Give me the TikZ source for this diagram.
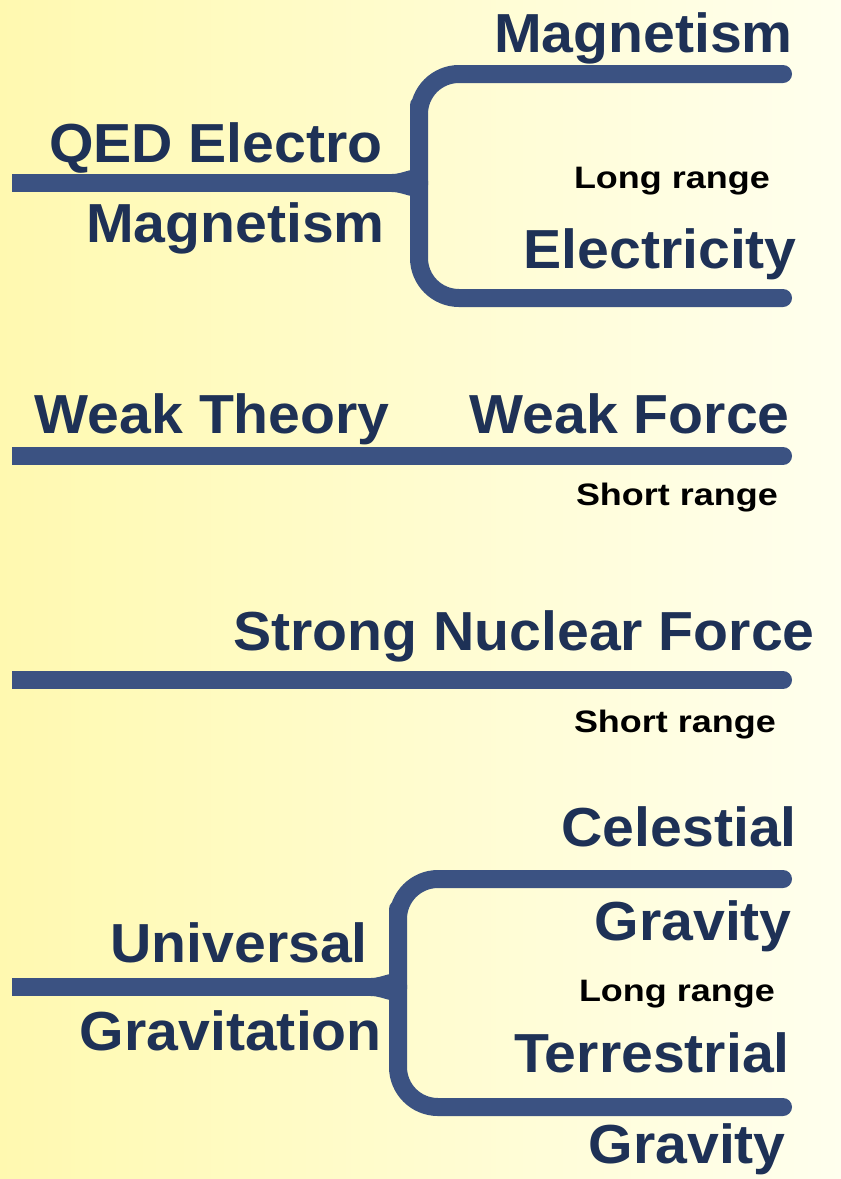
\documentclass[tikz,border=0pt]{standalone}
\usepackage{fontspec}
\setmainfont{Liberation Sans}
\newfontfamily\bigf{Liberation Sans}[FakeStretch=1.04]
\newfontfamily\smallf{Liberation Sans}[FakeStretch=1.16]
\definecolor{linec}{HTML}{3B5282}
\definecolor{txtc}{HTML}{1E3156}
\definecolor{bgleft}{HTML}{FFF9B0}
\definecolor{bgright}{HTML}{FFFFEE}
\tikzset{
  big/.style={font=\bigf\bfseries\fontsize{55}{60}\selectfont, text=txtc, anchor=base east, inner sep=0pt},
  small/.style={font=\smallf\bfseries\fontsize{31}{34}\selectfont, text=black, anchor=base east, inner sep=0pt},
  branch/.style={draw=linec, line width=18pt, line cap=round, line join=round},
  stem/.style={draw=linec, line width=18pt, line cap=butt},
}
\begin{document}
\begin{tikzpicture}[x=1pt,y=-1pt]
\shade[left color=bgleft, right color=bgright] (0,0) rectangle (841,1179);
\useasboundingbox (0,0) rectangle (841,1179);

% ---------- Block 1 : electromagnetism ----------
\coordinate (s1) at (12,183);
\coordinate (j1) at (392,183);
\coordinate (a1) at (783,74);
\coordinate (b1) at (783,298);
\draw[stem] (s1) -- (j1);
\draw[branch] (a1) [rounded corners=40pt] -- (419,74) -- (419,145) [sharp corners]
  .. controls (419,172) and (408,183) .. (j1);
\draw[branch] (b1) [rounded corners=40pt] -- (419,298) -- (419,221) [sharp corners]
  .. controls (419,194) and (408,183) .. (j1);

\node[big] (m1) at (793,52) {Magnetism};
\node[big] (q1) at (383,162) {QED Electro};
\node[big] (m2) at (385,242) {Magnetism};
\node[small] (l1) at (770,188) {Long range};
\node[big] (e1) at (797,268) {Electricity};

% ---------- Block 2 : weak ----------
\coordinate (s2) at (12,456);
\coordinate (e2) at (783,456);
\draw[branch] (30,456) -- (e2);
\draw[stem] (s2) -- (40,456);
\node[big] (wt) at (390,433) {Weak Theory};
\node[big] (wf) at (790,433) {Weak Force};
\node[small] (sr1) at (778,505) {Short range};

% ---------- Block 3 : strong ----------
\coordinate (s3) at (12,680);
\coordinate (e3) at (783,680);
\draw[branch] (30,680) -- (e3);
\draw[stem] (s3) -- (40,680);
\node[big] (snf) at (815,650) {Strong Nuclear Force};
\node[small] (sr2) at (776,732) {Short range};

% ---------- Block 4 : gravitation ----------
\coordinate (s4) at (12,987);
\coordinate (j4) at (371,987);
\coordinate (a4) at (783,879);
\coordinate (b4) at (783,1107);
\draw[stem] (s4) -- (j4);
\draw[branch] (a4) [rounded corners=40pt] -- (398,879) -- (398,949) [sharp corners]
  .. controls (398,976) and (387,987) .. (j4);
\draw[branch] (b4) [rounded corners=40pt] -- (398,1107) -- (398,1025) [sharp corners]
  .. controls (398,998) and (387,987) .. (j4);

\node[big] (ce) at (797,846) {Celestial};
\node[big] (g1) at (792,940) {Gravity};
\node[big] (un) at (368,962) {Universal};
\node[small] (l2) at (775,1001) {Long range};
\node[big] (gr) at (382,1050) {Gravitation};
\node[big] (te) at (790,1072) {Terrestrial};
\node[big] (g2) at (786,1163) {Gravity};
\end{tikzpicture}
\end{document}
